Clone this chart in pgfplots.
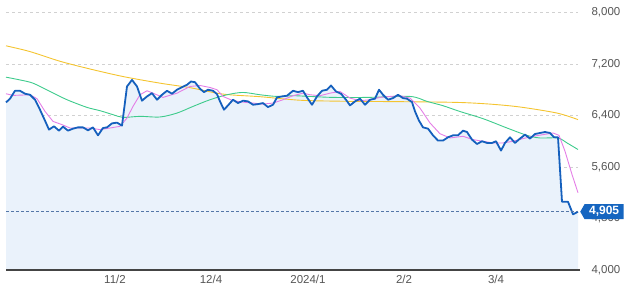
\documentclass[border=0pt]{standalone}
\usepackage{pgfplots}
\pgfplotsset{compat=1.18}
\usepackage{fontspec}
\setmainfont{Liberation Sans}
\usetikzlibrary{shapes.symbols}
\definecolor{blueline}{HTML}{1560BD}
\definecolor{bluefill}{HTML}{EAF2FB}
\definecolor{pinkline}{HTML}{E47EE6}
\definecolor{greenline}{HTML}{3ECB8C}
\definecolor{yellowline}{HTML}{F4C430}
\definecolor{labelgray}{HTML}{555555}
\definecolor{boxblue}{HTML}{1565C0}
\definecolor{curline}{HTML}{5577A8}
\begin{document}
\begin{tikzpicture}[x=1pt,y=1pt]
\useasboundingbox (0,0) rectangle (631,296);
\begin{axis}[
  at={(6pt,26pt)}, anchor=south west,
  scale only axis, width=572pt, height=257.7pt,
  xmin=6, xmax=578, ymin=4000, ymax=8000,
  axis line style={draw=none},
  major tick style={draw=none},
  xtick={115,211,308,404,496},
  xticklabels={11/2,12/4,2024/1,2/2,3/4},
  ytick={4000,4800,5600,6400,7200,8000},
  yticklabels={{4,000},{4,800},{5,600},{6,400},{7,200},{8,000}},
  yticklabel pos=right,
  ymajorgrids,
  grid style={dash pattern=on 3pt off 3pt, color=black!18, line width=0.6pt},
  tick label style={font=\fontsize{11.5}{14}\selectfont, text=labelgray},
  yticklabel style={anchor=west, xshift=10pt},
  xticklabel style={yshift=-2pt},
  clip=false,
]
\addplot[fill=bluefill, draw=none] coordinates {
(6,6601)(10,6659)(15,6782)(20,6782)(25,6736)(30,6720)(35,6643)(40,6488)(45,6318)(49,6179)(54,6230)(59,6163)(63,6225)(68,6163)(73,6194)(78,6214)(83,6214)(88,6168)(93,6214)(98,6090)(103,6204)(107,6214)(112,6276)(117,6287)(122,6241)(127,6849)(132,6950)(137,6849)(142,6628)(147,6694)(152,6745)(157,6643)(162,6720)(167,6782)(172,6736)(177,6798)(182,6838)(187,6875)(191,6926)(195,6915)(200,6813)(204,6761)(208,6798)(213,6782)(217,6730)(220,6617)(224,6488)(228,6555)(233,6643)(238,6591)(243,6628)(248,6617)(253,6565)(258,6575)(263,6591)(268,6529)(273,6565)(277,6679)(282,6694)(287,6705)(293,6782)(298,6761)(303,6782)(307,6679)(312,6565)(317,6694)(322,6782)(327,6798)(331,6864)(336,6771)(341,6736)(346,6643)(350,6555)(355,6617)(360,6659)(365,6565)(370,6643)(375,6659)(379,6798)(383,6720)(388,6643)(393,6668)(398,6720)(403,6668)(407,6659)(412,6606)(415,6462)(419,6318)(423,6214)(428,6194)(433,6090)(438,6009)(443,6009)(448,6060)(453,6090)(458,6090)(463,6163)(467,6142)(472,6024)(477,5956)(482,5998)(487,5972)(492,5972)(496,5998)(501,5854)(505,5972)(510,6060)(515,5972)(520,6040)(525,6101)(530,6040)(535,6111)(540,6127)(545,6142)(550,6127)(554,6060)(558,6060)(562,5059)(568,5059)(573,4864)(578,4905)
(578,4000)(6,4000)} -- cycle;
\addplot[yellowline, line width=0.9pt, smooth] coordinates {
(6,7480)(30,7390)(60,7240)(90,7120)(124,7000)(160,6900)(190,6830)(223,6730)(260,6690)(300,6635)(340,6620)(380,6615)(420,6610)(460,6600)(490,6575)(520,6530)(557,6436)(578,6334)};
\addplot[greenline, line width=0.9pt, smooth] coordinates {
(6,6993)(20,6950)(33,6900)(50,6771)(67,6643)(87,6524)(100,6473)(113,6411)(123,6369)(140,6385)(160,6375)(177,6436)(193,6539)(210,6643)(227,6720)(243,6756)(260,6720)(277,6694)(293,6705)(310,6694)(333,6679)(367,6679)(410,6694)(427,6617)(443,6550)(460,6460)(483,6349)(507,6204)(527,6090)(540,6049)(558,6049)(567,5972)(578,5870)};
\addplot[pinkline, line width=0.9pt] coordinates {
(6,6736)(13,6710)(22,6715)(30,6720)(37,6659)(45,6462)(53,6307)(62,6256)(70,6204)(80,6204)(90,6204)(100,6179)(110,6204)(120,6230)(127,6359)(133,6539)(140,6720)(147,6782)(153,6745)(163,6679)(177,6745)(190,6849)(200,6864)(210,6833)(217,6798)(223,6694)(233,6628)(243,6606)(253,6591)(263,6575)(273,6591)(283,6643)(293,6705)(303,6745)(310,6720)(320,6705)(330,6745)(340,6771)(350,6668)(360,6628)(370,6643)(380,6679)(390,6694)(400,6705)(410,6668)(420,6513)(430,6282)(440,6115)(450,6050)(463,6075)(473,6024)(483,5998)(493,5972)(503,5972)(513,5998)(523,6040)(533,6075)(543,6101)(553,6127)(559,6090)(565,5843)(572,5483)(578,5198)};
\addplot[blueline, line width=1.8pt, line join=round] coordinates {
(6,6601)(10,6659)(15,6782)(20,6782)(25,6736)(30,6720)(35,6643)(40,6488)(45,6318)(49,6179)(54,6230)(59,6163)(63,6225)(68,6163)(73,6194)(78,6214)(83,6214)(88,6168)(93,6214)(98,6090)(103,6204)(107,6214)(112,6276)(117,6287)(122,6241)(127,6849)(132,6950)(137,6849)(142,6628)(147,6694)(152,6745)(157,6643)(162,6720)(167,6782)(172,6736)(177,6798)(182,6838)(187,6875)(191,6926)(195,6915)(200,6813)(204,6761)(208,6798)(213,6782)(217,6730)(220,6617)(224,6488)(228,6555)(233,6643)(238,6591)(243,6628)(248,6617)(253,6565)(258,6575)(263,6591)(268,6529)(273,6565)(277,6679)(282,6694)(287,6705)(293,6782)(298,6761)(303,6782)(307,6679)(312,6565)(317,6694)(322,6782)(327,6798)(331,6864)(336,6771)(341,6736)(346,6643)(350,6555)(355,6617)(360,6659)(365,6565)(370,6643)(375,6659)(379,6798)(383,6720)(388,6643)(393,6668)(398,6720)(403,6668)(407,6659)(412,6606)(415,6462)(419,6318)(423,6214)(428,6194)(433,6090)(438,6009)(443,6009)(448,6060)(453,6090)(458,6090)(463,6163)(467,6142)(472,6024)(477,5956)(482,5998)(487,5972)(492,5972)(496,5998)(501,5854)(505,5972)(510,6060)(515,5972)(520,6040)(525,6101)(530,6040)(535,6111)(540,6127)(545,6142)(550,6127)(554,6060)(558,6060)(562,5059)(568,5059)(573,4864)(578,4905)};
\addplot[curline, dash pattern=on 3pt off 2pt, line width=0.7pt] coordinates {(6,4905)(578,4905)};
\draw[labelgray!80!black, line width=1.2pt] (axis cs:6,4000) -- (axis cs:580,4000);
\coordinate (cur) at (axis cs:578,4905);
\end{axis}
\node[signal, signal to=west, signal pointer angle=120, fill=boxblue, text=white,
  font=\fontsize{12}{14}\selectfont\bfseries, inner ysep=2.4pt, inner xsep=4.5pt, anchor=west]
  at ([xshift=2pt]cur) {4,905};
\end{tikzpicture}
\end{document}
